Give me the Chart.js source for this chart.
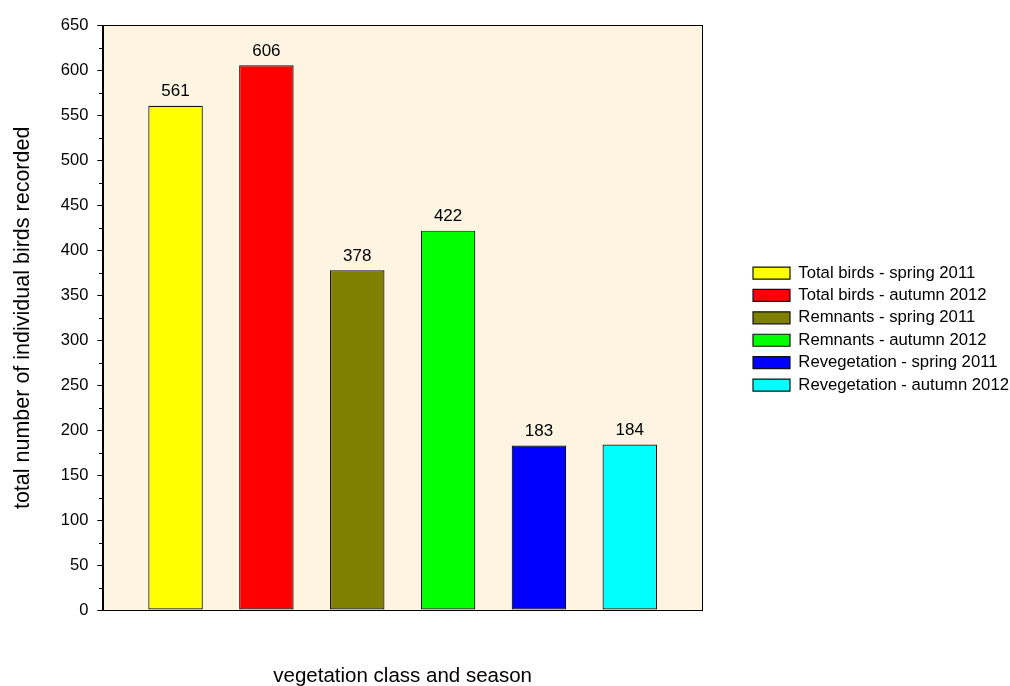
<!DOCTYPE html>
<html>
<head>
<meta charset="utf-8">
<title>Birds recorded by vegetation class and season</title>
<script src="https://cdn.jsdelivr.net/npm/chart.js@4/dist/chart.umd.min.js"></script>
<style>
  html, body { margin: 0; padding: 0; background: #ffffff; }
  #wrap { width: 1010px; height: 686px; }
</style>
</head>
<body>
<div id="wrap"><canvas id="chart" width="1010" height="686"></canvas></div>
<script>
// Survey totals: one bar per vegetation class / season
const groupLabels = [''];
const seriesNames = [
  'Total birds - spring 2011',
  'Total birds - autumn 2012',
  'Remnants - spring 2011',
  'Remnants - autumn 2012',
  'Revegetation - spring 2011',
  'Revegetation - autumn 2012'
];
const seriesValues = [561, 606, 378, 422, 183, 184];
const seriesColors = ['#ffff00', '#ff0000', '#808000', '#00ff00', '#0000ff', '#00ffff'];

const yMin = 0;
const yMax = 650;
const yMajorStep = 50;
const yMinorStep = 25;

const xTitle = 'vegetation class and season';
const yTitle = 'total number of individual birds recorded';

const FONT = "'Liberation Sans', Arial, Helvetica, sans-serif";
Chart.defaults.font.family = FONT;
Chart.defaults.font.size = 16.5;
Chart.defaults.color = '#000000';

// cream plot background and a thin frame around the plotting area
const plotFrame = {
  id: 'plotFrame',
  beforeDraw(chart) {
    const a = chart.chartArea, ctx = chart.ctx;
    ctx.save();
    ctx.fillStyle = '#fdf5e2';
    ctx.fillRect(a.left, a.top, a.right - a.left, a.bottom - a.top);
    ctx.restore();
  },
  afterDraw(chart) {
    const a = chart.chartArea, ctx = chart.ctx;
    ctx.save();
    ctx.strokeStyle = '#000000';
    ctx.lineWidth = 1;
    ctx.strokeRect(Math.round(a.left) - 0.5, Math.round(a.top) - 0.5,
                   Math.round(a.right - a.left) + 1, Math.round(a.bottom - a.top) + 1);
    // short minor ticks half way between the labelled ticks
    const y = chart.scales.y;
    ctx.beginPath();
    for (let v = yMin + yMinorStep; v < yMax; v += yMajorStep) {
      const py = Math.round(y.getPixelForValue(v)) + 0.5;
      ctx.moveTo(Math.round(a.left) - 4, py);
      ctx.lineTo(Math.round(a.left), py);
    }
    ctx.stroke();
    ctx.restore();
  }
};

// value printed above each bar
const valueLabels = {
  id: 'valueLabels',
  afterDatasetsDraw(chart) {
    const ctx = chart.ctx;
    ctx.save();
    ctx.font = '17px ' + FONT;
    ctx.fillStyle = '#000000';
    ctx.textAlign = 'center';
    ctx.textBaseline = 'alphabetic';
    chart.data.datasets.forEach((ds, i) => {
      const meta = chart.getDatasetMeta(i);
      meta.data.forEach((bar, j) => {
        ctx.fillText(String(ds.data[j]), bar.x, bar.y - 9.5);
      });
    });
    ctx.restore();
  }
};

const datasets = seriesNames.map((name, i) => ({
  label: name,
  data: [seriesValues[i]],
  backgroundColor: seriesColors[i],
  borderColor: '#111111',
  borderWidth: 1.2,
  borderSkipped: false,
  categoryPercentage: 0.9105,
  barPercentage: 0.6
}));

new Chart(document.getElementById('chart'), {
  type: 'bar',
  data: { labels: groupLabels, datasets },
  options: {
    responsive: false,
    animation: false,
    devicePixelRatio: 1,
    layout: { padding: { left: 0, right: 0, top: 25.7, bottom: 0 } },
    plugins: {
      tooltip: { enabled: false },
      legend: {
        position: 'right',
        align: 'center',
        fullSize: false,
        maxWidth: 262.7,
        title: { display: true, text: ' ', font: { size: 10 }, padding: { top: 10.4, bottom: 0 } },
        labels: {
          boxWidth: 37,
          boxHeight: 12,
          padding: 5.7,
          color: '#000000',
          font: { size: 16.7 }
        }
      }
    },
    scales: {
      x: {
        grid: { display: false, drawTicks: false },
        border: { display: false },
        ticks: { display: false },
        title: { display: true, text: xTitle, color: '#000000', font: { size: 20.5 }, padding: { top: 53.7, bottom: -2.3 } }
      },
      y: {
        min: yMin,
        max: yMax,
        ticks: { stepSize: yMajorStep, padding: 9, color: '#000000', font: { size: 16.5 } },
        grid: { drawOnChartArea: false, drawTicks: true, tickLength: 6, color: '#000000' },
        border: { display: true, color: '#000000' },
        title: { display: true, text: yTitle, color: '#000000', font: { size: 21.5 }, padding: { top: 10.1, bottom: 15.9 } }
      },
      gap: {
        type: 'linear',
        position: 'right',
        display: true,
        grid: { display: false, drawTicks: false },
        border: { display: false },
        ticks: { display: false },
        afterFit(scale) { scale.width = 45.3; }
      }
    }
  },
  plugins: [plotFrame, valueLabels]
});
</script>
</body>
</html>
